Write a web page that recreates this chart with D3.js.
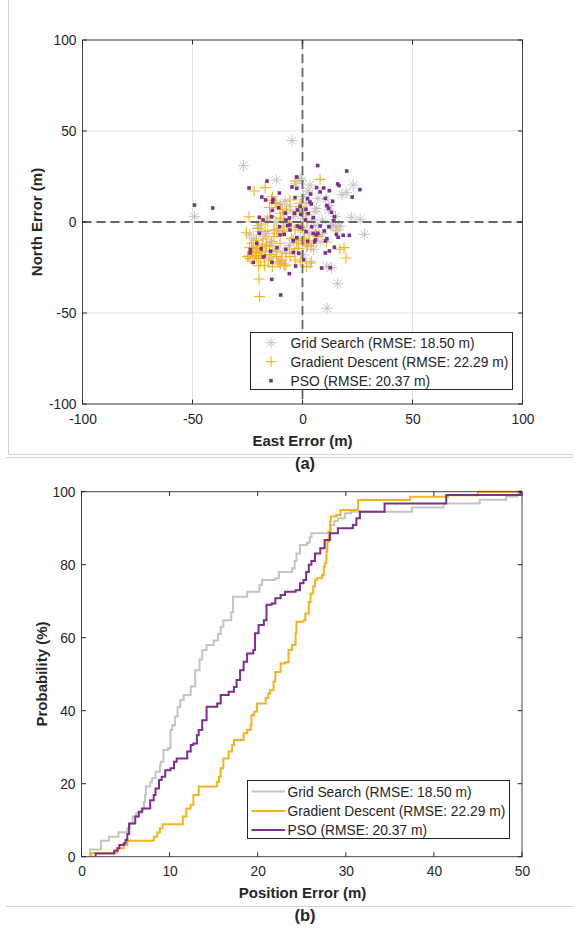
<!DOCTYPE html>
<html><head><meta charset="utf-8">
<script src="https://cdn.jsdelivr.net/npm/d3@7"></script>
<style>
html,body{margin:0;padding:0;background:#fff;}
svg{display:block;}
text{font-family:"Liberation Sans",Arial,sans-serif;fill:#262626;}
</style></head>
<body>
<svg id="chart" width="573" height="928"></svg>
<script>
// ---------- DATA ----------
const seriesNames = ["Grid Search (RMSE: 18.50 m)", "Gradient Descent (RMSE: 22.29 m)", "PSO (RMSE: 20.37 m)"];
const scatterTicks = [-100, -50, 0, 50, 100];
const cdfXTicks = [0, 10, 20, 30, 40, 50];
const cdfYTicks = [0, 20, 40, 60, 80, 100];

// scatter: [east, north] in m
const gridSearchPts = [[-49.1,2.9],[-26.9,31],[-4.8,44.7],[11.1,-47.4],[16,-33.9],[13.2,-25.1],[28.1,-6.8],[23.1,20.3],[22.2,2.6],[26.2,1.5],[-11.9,23.1],[-1.1,24],[3.4,20.3],[10.7,12.6],[20.1,16.1],[18,15],[6.4,7.5],[11.7,6.6],[14,-2.2],[17,-2.2],[9,-6.2],[8,-10.8],[13.2,-1.6],[16.3,-2.6],[-15.8,-6.2],[-19.3,-5.3],[-22.3,-9],[-14.8,-11.7],[-10.2,-22.3],[-14,-20],[-8.7,-22.7],[-4.2,-9.9],[-1.1,-9.9],[0.7,-4.4],[0,2],[-5.7,8.4],[-7.9,11.2],[-10.2,9.7],[-4.2,2.9],[1.9,10.3],[5.7,5.7],[4.2,1.1],[-11.7,-4.4],[-17.8,-8.1],[3.4,-22.7],[11,-24.5],[-3.4,-16.3],[0.4,-18.1],[2.5,17],[-3,21],[0.5,14],[7,13],[-8,5],[-12,0],[-2,-3],[3,-6],[6,-2],[-6,-13],[-9,-17],[-13,-15],[-18,-13],[2,-13],[9,1],[12,9],[-1,6],[-7,-1],[5,-15],[-16,2],[-20,-2],[-24,-7],[15,3],[-0.5,23]];
const gradientPts = [[-19.5,-41],[-19.8,-31.3],[8,23.4],[-3.4,22.5],[-17,18.9],[-22,17],[-13.7,13.9],[-9.2,7],[-24.3,2.9],[-20.4,-3.5],[-25.5,-5.9],[-16,0.5],[-11.7,-6.2],[-16.6,-9.3],[-18.4,-12.1],[-20.4,-13.2],[-20.9,-15.4],[-22.6,-16.3],[-24.6,-18.7],[-19.3,-17.2],[-20.9,-18.5],[-20,-20],[-17.3,-23.8],[-14.8,-17.9],[-11.7,-19],[-9.5,-20.9],[-10.2,-23.1],[-7.6,-23.6],[-3.4,-20.9],[1.9,-24.5],[-1.9,-14.5],[2.2,-13.2],[3.9,-13.2],[-2.6,-11.7],[0.8,-8.8],[-10.2,-11.7],[-4.9,-9],[-1.1,10.3],[-0.4,8.4],[1.4,4.8],[-10.2,4.8],[-8.7,1.1],[-14.8,2.9],[-18.8,-1.1],[-12.8,-4.4],[-8.4,-4.4],[-5.7,-2.2],[-3.4,-4.4],[5.7,-6.8],[15.2,-4.8],[18.9,-14.1],[19.8,-19.8],[-5.7,12.1],[-12.5,10.6],[-7.2,6.6],[6.4,-7.1],[11,-11],[-22.3,-14.5],[-23.1,-11.7],[-16.3,-13.6],[-14,-10.8],[-18.6,-16.3],[-21.3,-16.8],[-23.8,-20.1],[-15.5,-20.9],[-13.7,-24.5],[-5.7,-19],[-7.5,-17.2],[-12,10],[-14,12],[-15,8],[-10,2],[-6,0],[-1,-3],[2,0],[-3,6],[-9,-5],[-13,-8],[-17,-5],[-21,-10],[-19,-22],[-22,-20],[-24,-14],[-17,-16],[-12,-16],[-6,-15],[-2,-10],[3,-10],[7,-8],[17,-15],[-25,-19],[-20,-24],[-11,-22],[-1,-22],[4,-22],[-15,-13],[-8,-24],[2,-12]];
const psoPts = [[-49.1,9.3],[-40.8,7.7],[6.9,31],[20.1,28],[-16.1,22.5],[-24.3,18.7],[-2.6,24.7],[16,20.9],[16.6,20],[-10.5,15.9],[-18.5,13.7],[-16.8,12.1],[-13.4,12.5],[-13.6,11],[-4.8,19.2],[-2.6,18.5],[-3.4,13.4],[3.7,15.4],[6.4,18.9],[9.6,18.7],[8,16.5],[12.2,17.2],[10.4,13],[13.7,11.4],[26.1,17.8],[22.6,13.7],[2.3,12.8],[3.4,11],[4,9.9],[-1.1,8.6],[-2.2,6.6],[-3.7,4.8],[-6,2.2],[-5.7,-1.6],[-10.8,7.9],[-13.7,6.4],[-14,2.9],[-19.6,2.6],[-17.9,1.1],[-7.8,4.9],[-7.5,1.1],[-0.8,4.2],[1.6,7],[2.6,4.6],[4.9,2.4],[8,-2.2],[9.9,-4.9],[12,-2.6],[14.2,0.7],[11.1,9],[11.9,7.5],[15.4,-6.8],[18.5,-7.3],[21.3,-7.3],[16.2,-8.4],[11.1,-9.2],[10.4,-10.4],[4.9,-6.2],[6.3,-7],[1.6,-5.3],[-2.3,-2.2],[-5.7,-4.4],[-8.3,-6.8],[-10.4,-2.6],[-19.6,-6.2],[-23.7,-15.2],[-23.8,-17],[-22.4,-22.2],[-17.8,-19.2],[-17.3,-18.9],[-11.6,-14.1],[-13.9,-22.2],[-6,-28.4],[-3.1,-24.2],[-4.2,-16.7],[-1.7,-17.2],[0.5,-20.7],[2.3,-10.6],[5.5,-11],[5.8,-9.9],[8.7,-25.3],[12.6,-25.1],[14.5,-13.9],[10.4,-17],[12.2,-15.9],[-14,-31.5],[-9.9,-40.1],[-14.5,-16.1],[-18.8,-14.7],[-20.8,-11.7],[-7.6,-15],[-4.2,-10.3],[-10.2,-7.1],[-2.6,-8.6],[-6.7,-2],[-1.1,-2.9],[7,-6.2],[1.3,1.1],[4.2,-2.6],[13.2,5.3],[14.5,2.9]];

// CDF steps: [position error (m), cumulative probability (%)] reached at that error
const gridSearchCdf = [[0.96,0],[0.96,2],[2.2,4.4],[3.1,5.5],[4.2,6.7],[5.2,7.8],[5.5,9],[5.8,11],[6.2,12],[6.8,13.2],[7.1,15],[7.2,17],[7.3,19.2],[7.8,20.5],[8.0,21.5],[8.4,23.3],[8.9,25],[9.0,26],[9.3,29.2],[9.8,29.7],[10.1,34.7],[10.3,36],[10.6,38.4],[10.9,41],[11.2,42.9],[11.6,44.3],[12.4,46.6],[12.9,51.1],[13.4,54],[13.7,56.6],[14.2,58],[15.0,59.2],[15.5,61],[15.8,63],[16.1,64.8],[17.0,67],[17.2,71.2],[18.8,72.6],[20.2,74.5],[20.5,75.8],[22.0,76.3],[22.4,78],[23.9,79],[24.2,81],[24.4,83.1],[24.8,85.4],[25.6,86],[25.9,87.5],[26.1,88.6],[28.0,89],[28.3,90.9],[28.7,92],[29.1,92.7],[29.9,94.1],[30.6,94.5],[37.5,95.7],[41.1,96.8],[45.2,97.8],[48.2,98.7],[49.5,100],[50,100]];
const gradientCdf = [[1.1,0],[1.1,1],[4.0,2.3],[4.8,3.2],[5.2,4.4],[8.2,5.5],[8.6,6.6],[8.9,7.8],[9.2,8.9],[11.5,11],[11.9,13.2],[12.4,14.2],[12.7,16.9],[13.3,19.2],[15.4,20.5],[15.6,21.9],[15.8,24.2],[16.1,26.9],[16.7,28.8],[17.1,30.6],[17.3,32],[18.4,33.8],[18.8,34.7],[19.2,36.1],[19.3,38.8],[19.6,39.7],[19.9,42],[20.9,43.5],[21.2,44.7],[21.4,45.6],[21.8,48],[22,50.6],[22.6,52.9],[23.1,53.3],[23.5,56.6],[23.9,58],[24.3,61.2],[24.4,64.4],[25.2,64.8],[25.4,66.6],[25.8,69.8],[26.0,72.1],[26.3,74],[26.5,75.8],[26.7,76.3],[27.3,77.2],[27.5,79.4],[27.6,80.4],[27.8,83.6],[27.9,86.3],[28.1,89],[28.2,91.8],[28.3,93.2],[28.9,93.6],[29.4,95],[31.4,97.7],[37.3,98.6],[41.6,99],[45,100],[50,100]];
const psoCdf = [[1.6,0],[1.6,0.9],[3.7,1.6],[4.1,2.3],[4.3,3.2],[4.8,3.7],[5.0,4.6],[5.2,6.2],[5.4,9.1],[6.1,11],[6.5,12.3],[6.9,13.2],[7.8,15.5],[8.2,16.9],[8.4,18.7],[8.8,21],[9.1,21.9],[9.5,23.7],[10.1,24.2],[10.5,26],[10.8,26.9],[12.0,28.8],[12.4,30.6],[12.7,31],[13.1,33.3],[13.3,34.7],[13.7,37.4],[14.2,41.1],[15.4,42],[15.8,44.3],[16.7,45.2],[17.3,46.5],[17.6,48.4],[18.0,51.1],[18.4,53.4],[18.8,55.7],[19.5,56.6],[19.7,61.2],[20.1,63.5],[20.7,64.8],[21.0,69],[21.6,69.4],[22.0,70.8],[22.6,71.7],[23.1,72.6],[24.3,73],[24.8,74.9],[25.2,75.8],[25.5,78],[25.8,80],[26.1,81],[26.5,83.1],[27.1,84.5],[27.6,86.8],[28.2,88.6],[29.1,90],[30.8,90.9],[31.2,92.7],[31.6,94.5],[34.4,96.8],[41.4,99.1],[49.8,100],[50,100]];

const colors = ["#c4c4c4", "#f2b31f", "#7e2f8e"];

// ---------- DRAW ----------
const svg = d3.select("#chart");
const ink = "#262626";
const fontTick = 13.8;
const fontLeg = 13.8;

// frame lines
const frame = "#d4d4d4";
svg.append("line").attr("x1",8.5).attr("x2",8.5).attr("y1",0).attr("y2",454.5).attr("stroke",frame);
svg.append("line").attr("x1",8.5).attr("x2",573).attr("y1",454.5).attr("y2",454.5).attr("stroke",frame);
svg.append("line").attr("x1",6).attr("x2",573).attr("y1",457.5).attr("y2",457.5).attr("stroke",frame);
svg.append("line").attr("x1",6).attr("x2",573).attr("y1",906.5).attr("y2",906.5).attr("stroke",frame);

function ticksInward(g, xs, ys, xTicks, yTicks, len) {
  const [x0, x1] = xs.range(), [y0, y1] = ys.range(); // y0 bottom, y1 top
  xTicks.forEach(t => {
    const x = xs(t);
    g.append("line").attr("x1",x).attr("x2",x).attr("y1",y0).attr("y2",y0-len).attr("stroke",ink);
    g.append("line").attr("x1",x).attr("x2",x).attr("y1",y1).attr("y2",y1+len).attr("stroke",ink);
  });
  yTicks.forEach(t => {
    const y = ys(t);
    g.append("line").attr("x1",x0).attr("x2",x0+len).attr("y1",y).attr("y2",y).attr("stroke",ink);
    g.append("line").attr("x1",x1).attr("x2",x1-len).attr("y1",y).attr("y2",y).attr("stroke",ink);
  });
}
const fmt = d => String(d);

// ===== Panel (a): scatter =====
const xA = d3.scaleLinear().domain([-100,100]).range([82.5,522.5]);
const yA = d3.scaleLinear().domain([-100,100]).range([404,40]);
const gA = svg.append("g");

// grid
scatterTicks.forEach(t => {
  gA.append("line").attr("x1",xA(t)).attr("x2",xA(t)).attr("y1",yA(-100)).attr("y2",yA(100)).attr("stroke","#e3e3e3");
  gA.append("line").attr("y1",yA(t)).attr("y2",yA(t)).attr("x1",xA(-100)).attr("x2",xA(100)).attr("stroke","#e3e3e3");
});

// markers
const asterisk = (g, x, y, r, c) => {
  const d = r*0.72;
  const p = `M${x-r},${y}L${x+r},${y}M${x},${y-r}L${x},${y+r}M${x-d},${y-d}L${x+d},${y+d}M${x-d},${y+d}L${x+d},${y-d}`;
  g.append("path").attr("d",p).attr("stroke",c).attr("stroke-width",1).attr("fill","none");
};
const plus = (g, x, y, r, c) => {
  g.append("path").attr("d",`M${x-r},${y}L${x+r},${y}M${x},${y-r}L${x},${y+r}`).attr("stroke",c).attr("stroke-width",1.1).attr("fill","none");
};
const square = (g, x, y, s, c) => {
  g.append("rect").attr("x",x-s/2).attr("y",y-s/2).attr("width",s).attr("height",s).attr("fill",c);
};

const mk = gA.append("g");
gridSearchPts.forEach(d => asterisk(mk, xA(d[0]), yA(d[1]), 5.5, colors[0]));
gradientPts.forEach(d => plus(mk, xA(d[0]), yA(d[1]), 5.5, colors[1]));
psoPts.forEach(d => square(mk, xA(d[0]), yA(d[1]), 3.6, colors[2]));

// zero dashed lines
gA.append("line").attr("x1",xA(0)).attr("x2",xA(0)).attr("y1",yA(100)).attr("y2",yA(-100))
  .attr("stroke","#666").attr("stroke-width",1.8).attr("stroke-dasharray","9,5");
gA.append("line").attr("x1",xA(-100)).attr("x2",xA(100)).attr("y1",yA(0)).attr("y2",yA(0))
  .attr("stroke","#666").attr("stroke-width",1.8).attr("stroke-dasharray","9,5");

// box + ticks
gA.append("rect").attr("x",xA(-100)).attr("y",yA(100)).attr("width",xA(100)-xA(-100)).attr("height",yA(-100)-yA(100))
  .attr("fill","none").attr("stroke","#444");
ticksInward(gA, xA, yA, scatterTicks, scatterTicks, 4.4);

// tick labels via d3 axes (lines hidden)
const axXA = gA.append("g").attr("transform",`translate(0,${yA(-100)})`)
  .call(d3.axisBottom(xA).tickValues(scatterTicks).tickFormat(fmt).tickSize(0).tickPadding(10));
const axYA = gA.append("g").attr("transform",`translate(${xA(-100)},0)`)
  .call(d3.axisLeft(yA).tickValues(scatterTicks).tickFormat(fmt).tickSize(0).tickPadding(6));
[axXA, axYA].forEach(a => {
  a.select(".domain").remove();
  a.selectAll("text").attr("font-size",fontTick).attr("fill","#333").attr("font-family","Liberation Sans, Arial, sans-serif");
});

gA.append("text").attr("x",302.5).attr("y",445.5).attr("text-anchor","middle").attr("font-size",15).attr("font-weight","bold").text("East Error (m)");
gA.append("text").attr("transform","translate(42,222) rotate(-90)").attr("text-anchor","middle").attr("font-size",15).attr("font-weight","bold").text("North Error (m)");

// legend (a)
const lgA = gA.append("g");
lgA.append("rect").attr("x",250.5).attr("y",332.5).attr("width",262).attr("height",57).attr("fill","#fff").attr("stroke",ink);
const lgRowsA = [342.7, 361.7, 380.7];
asterisk(lgA, 271, lgRowsA[0], 5.5, colors[0]);
plus(lgA, 271, lgRowsA[1], 5.5, colors[1]);
square(lgA, 271, lgRowsA[2], 3.6, colors[2]);
seriesNames.forEach((n,i) => lgA.append("text").attr("x",290.5).attr("y",lgRowsA[i]+5).attr("font-size",fontLeg).text(n));

svg.append("text").attr("x",305).attr("y",469).attr("text-anchor","middle").attr("font-size",16.5).attr("font-weight","bold").attr("fill","#000").text("(a)");

// ===== Panel (b): CDF =====
const xB = d3.scaleLinear().domain([0,50]).range([81.5,522]);
const yB = d3.scaleLinear().domain([0,100]).range([856.7,491.7]);
const gB = svg.append("g");

const line = d3.line().x(d => xB(d[0])).y(d => yB(d[1])).curve(d3.curveStepAfter);
[gridSearchCdf, gradientCdf, psoCdf].forEach((s,i) => {
  gB.append("path").datum(s).attr("d",line).attr("fill","none").attr("stroke",colors[i]).attr("stroke-width",2);
});

gB.append("rect").attr("x",xB(0)).attr("y",yB(100)).attr("width",xB(50)-xB(0)).attr("height",yB(0)-yB(100))
  .attr("fill","none").attr("stroke","#444");
ticksInward(gB, xB, yB, cdfXTicks, cdfYTicks, 4.4);

const axXB = gB.append("g").attr("transform",`translate(0,${yB(0)})`)
  .call(d3.axisBottom(xB).tickValues(cdfXTicks).tickFormat(fmt).tickSize(0).tickPadding(10));
const axYB = gB.append("g").attr("transform",`translate(${xB(0)},0)`)
  .call(d3.axisLeft(yB).tickValues(cdfYTicks).tickFormat(fmt).tickSize(0).tickPadding(6));
[axXB, axYB].forEach(a => {
  a.select(".domain").remove();
  a.selectAll("text").attr("font-size",fontTick).attr("fill","#333").attr("font-family","Liberation Sans, Arial, sans-serif");
});

gB.append("text").attr("x",302.5).attr("y",898).attr("text-anchor","middle").attr("font-size",15).attr("font-weight","bold").text("Position Error (m)");
gB.append("text").attr("transform","translate(46.5,674) rotate(-90)").attr("text-anchor","middle").attr("font-size",15).attr("font-weight","bold").text("Probability (%)");

// legend (b)
const lgB = gB.append("g");
lgB.append("rect").attr("x",247.5).attr("y",780.5).attr("width",262).attr("height",58).attr("fill","#fff").attr("stroke",ink);
const lgRowsB = [791.5, 811, 830];
seriesNames.forEach((n,i) => {
  lgB.append("line").attr("x1",251.5).attr("x2",285).attr("y1",lgRowsB[i]).attr("y2",lgRowsB[i]).attr("stroke",colors[i]).attr("stroke-width",2);
  lgB.append("text").attr("x",287.5).attr("y",lgRowsB[i]+5).attr("font-size",fontLeg).text(n);
});

svg.append("text").attr("x",305).attr("y",921).attr("text-anchor","middle").attr("font-size",16.5).attr("font-weight","bold").attr("fill","#000").text("(b)");
</script>
</body></html>
